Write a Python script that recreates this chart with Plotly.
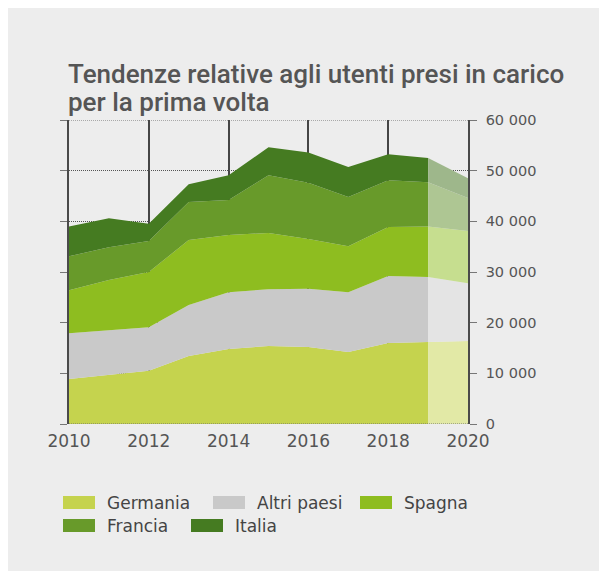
import plotly.graph_objects as go

years = [2010, 2011, 2012, 2013, 2014, 2015, 2016, 2017, 2018, 2019, 2020]
germania = [8900, 9700, 10500, 13400, 14800, 15400, 15200, 14200, 16000, 16200, 16400]
altri_paesi = [9000, 8800, 8600, 10100, 11200, 11200, 11500, 11800, 13200, 12800, 11400]
spagna = [8500, 9900, 10900, 12800, 11300, 11100, 9800, 9100, 9700, 10000, 10300]
francia = [6700, 6500, 6100, 7500, 6900, 11400, 11100, 9700, 9200, 8700, 6500]
italia = [5900, 5700, 3400, 3500, 4900, 5500, 6000, 5900, 5150, 4800, 3900]

series_names = ["Germania", "Altri paesi", "Spagna", "Francia", "Italia"]
series_values = [germania, altri_paesi, spagna, francia, italia]
colors = ["#c5d34e", "#c9c9c9", "#8ebd20", "#689a2a", "#457b21"]
light_colors = ["#e2e9a6", "#e4e4e4", "#c6de8f", "#aec693", "#9eb78b"]
y_ticks = [0, 10000, 20000, 30000, 40000, 50000, 60000]
x_ticks = [2010, 2012, 2014, 2016, 2018, 2020]
proj_start = 2019

OFF = 8  # page body margin
W, H = 607 + OFF, 571 + OFF  # cover the whole window
# plot area in screen pixels
SL, SR, ST, SB = 69, 468, 120, 424
L, R, T, B = SL - OFF, SR - OFF, ST - OFF, SB - OFF


def px2x(sx):
    return (sx - SL) / (SR - SL)


def px2y(sy):
    return (SB - sy) / (SB - ST)


fig = go.Figure()
cut = years.index(proj_start)
for name, vals, col in zip(series_names, series_values, colors):
    fig.add_trace(go.Scatter(
        x=years[:cut + 1], y=vals[:cut + 1], name=name, stackgroup="main",
        mode="lines", line=dict(width=0, color=col), fillcolor=col,
        showlegend=False, hoverinfo="skip"))
for name, vals, col in zip(series_names, series_values, light_colors):
    fig.add_trace(go.Scatter(
        x=years[cut:], y=vals[cut:], name=name + " (stima)", stackgroup="proj",
        mode="lines", line=dict(width=0, color=col), fillcolor=col,
        showlegend=False, hoverinfo="skip"))

shapes = []
annotations = []
# dotted baseline and top line
for yv in (0, 60000):
    shapes.append(dict(type="line", xref="paper", yref="y", x0=0, x1=1, y0=yv, y1=yv,
                       line=dict(color="#666", width=1, dash="1px,1px"),
                       layer="above" if yv == 0 else "below"))

# title
title_font = dict(family="Roboto", size=26, color="#555555", weight=500)
annotations.append(dict(text="Tendenze relative agli utenti presi in carico", xref="paper", yref="paper",
                        x=px2x(66), y=px2y(74.5), xanchor="left", yanchor="middle", showarrow=False,
                        font=title_font))
annotations.append(dict(text="per la prima volta", xref="paper", yref="paper",
                        x=px2x(66), y=px2y(102.5), xanchor="left", yanchor="middle", showarrow=False,
                        font=title_font))

# legend (custom, flow layout), screen coords of swatch left / row center
legend_pos = [(63, 503), (213, 503), (360, 503), (63, 526), (191, 526)]
for (lx, ly), name, col in zip(legend_pos, series_names, colors):
    shapes.append(dict(type="rect", xref="paper", yref="paper", x0=px2x(lx), x1=px2x(lx + 32),
                       y0=px2y(ly + 6), y1=px2y(ly - 7), fillcolor=col, line=dict(width=0)))
    annotations.append(dict(text=name, xref="paper", yref="paper", x=px2x(lx + 42), y=px2y(ly),
                            xanchor="left", yanchor="middle", showarrow=False,
                            font=dict(family="DejaVu Sans", size=17, color="#444444")))

fig.update_layout(
    width=W, height=H,
    margin=dict(l=L, r=W - R, t=T, b=H - B, pad=0),
    paper_bgcolor="#ededed", plot_bgcolor="#ededed",
    separators=". ",
    shapes=shapes, annotations=annotations,
    showlegend=False,
    xaxis=dict(range=[2010, 2020], tickvals=x_ticks, showgrid=True, gridcolor="#454545",
               gridwidth=1.5, zeroline=False, showline=False, ticks="",
               tickfont=dict(family="DejaVu Sans", size=17, color="#555555"), ticklabelstandoff=5),
    yaxis=dict(range=[0, 60000], tickvals=y_ticks, side="right", showgrid=True,
               gridcolor="#555555", griddash="1px,1px", gridwidth=1, zeroline=False,
               showline=True, linecolor="#4a4a4a", linewidth=1.5, mirror="ticks",
               ticks="outside", ticklen=7, tickcolor="#777777", tickwidth=1,
               tickformat=",d", ticklabelstandoff=6,
               tickfont=dict(family="DejaVu Sans", size=14.5, color="#555555")),
)

fig.write_html("out.html")
